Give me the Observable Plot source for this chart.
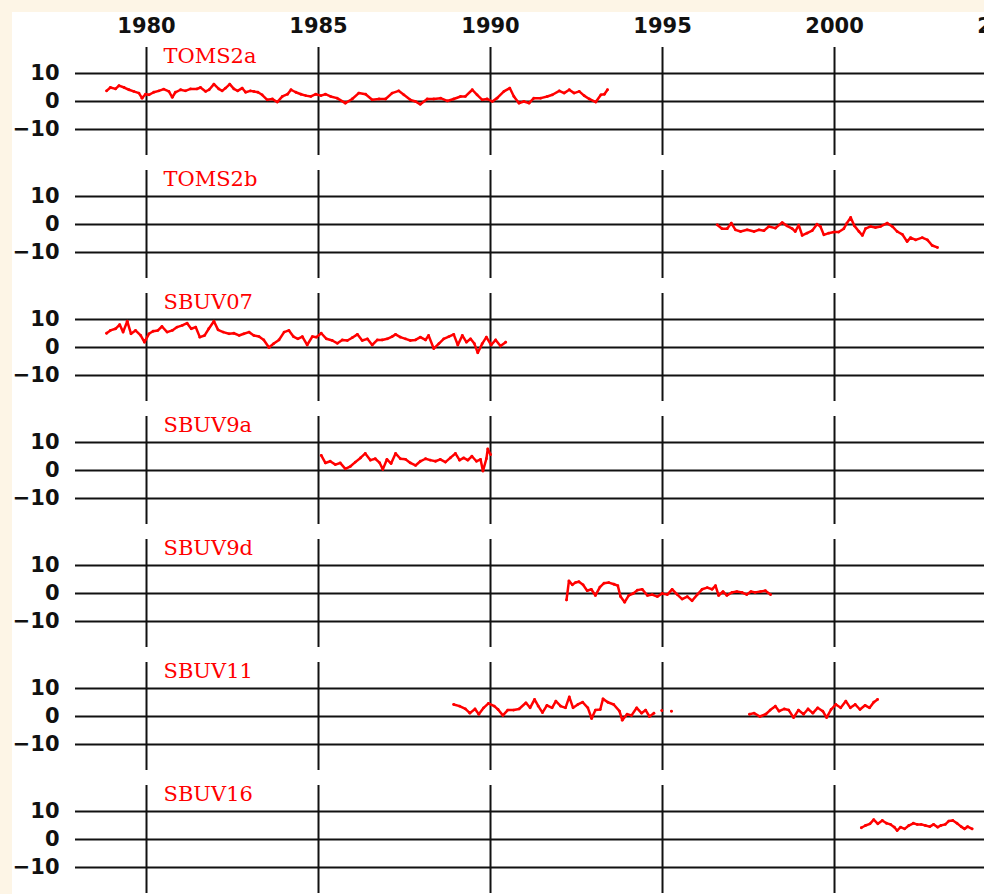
<!DOCTYPE html>
<html>
<head>
<meta charset="utf-8">
<script src="https://cdn.jsdelivr.net/npm/d3@7"></script>
<script src="https://cdn.jsdelivr.net/npm/@observablehq/plot@0.6"></script>
<style>
  html, body { margin: 0; padding: 0; background: #fdf5e6; overflow: hidden; }
  #chart { position: absolute; left: 12px; top: 12px; }
</style>
</head>
<body>
<div id="chart"></div>
<script>
// Instrument records, one panel each (top to bottom)
const panels = ["TOMS2a", "TOMS2b", "SBUV07", "SBUV9a", "SBUV9d", "SBUV11", "SBUV16"];
const yearTicks = [1980, 1985, 1990, 1995, 2000, 2005];
const gridYears = [1980, 1985, 1990, 1995, 2000];
const valueTicks = [-10, 0, 10];

// [decimal year, deviation]; null marks a gap in the record
const toms2a = [[1978.84,3.8],[1978.95,5],[1979.1,4.5],[1979.2,5.7],[1979.35,5],[1979.49,4.2],[1979.63,3.6],[1979.78,3],[1979.87,1.2],[1979.97,2.6],[1980.07,2.4],[1980.21,3.3],[1980.36,3.8],[1980.5,4.4],[1980.65,3.6],[1980.75,1.5],[1980.84,3.3],[1980.99,4.2],[1981.13,3.8],[1981.28,4.5],[1981.47,4.5],[1981.57,5],[1981.72,3.6],[1981.82,4.2],[1981.96,6.2],[1982.1,4.5],[1982.2,3.8],[1982.3,4.8],[1982.42,6.2],[1982.54,4.5],[1982.65,3.8],[1982.78,4.8],[1982.88,3.3],[1983.02,3.8],[1983.12,3.6],[1983.24,3.3],[1983.36,2.4],[1983.51,0.6],[1983.66,0.9],[1983.8,-0.2],[1983.95,1.8],[1984.1,2.6],[1984.2,4.2],[1984.34,3.3],[1984.49,2.6],[1984.63,2.1],[1984.78,1.8],[1984.92,2.6],[1985.07,2.1],[1985.2,2.6],[1985.35,1.8],[1985.54,1.2],[1985.78,-0.6],[1985.98,0.9],[1986.17,3],[1986.37,2.6],[1986.56,0.6],[1986.76,0.9],[1986.95,0.9],[1987.14,3],[1987.33,3.8],[1987.48,2.4],[1987.67,0.6],[1987.82,0],[1987.96,-1],[1988.16,0.9],[1988.35,0.9],[1988.55,1.2],[1988.74,0.2],[1988.93,0.9],[1989.13,1.8],[1989.27,1.8],[1989.47,4.2],[1989.61,2.4],[1989.76,0.6],[1989.9,0.9],[1990.05,0],[1990.19,1.2],[1990.39,3.6],[1990.56,4.8],[1990.68,1.8],[1990.83,-0.6],[1990.97,0],[1991.12,-0.6],[1991.26,1.2],[1991.46,1.2],[1991.65,1.8],[1991.8,2.4],[1992,3.8],[1992.14,3],[1992.29,4.2],[1992.43,3],[1992.58,3.6],[1992.72,2.1],[1992.87,0.9],[1993.06,-0.2],[1993.21,2.4],[1993.31,2.6],[1993.4,4.2]];

const toms2b = [[1996.59,-0.1],[1996.73,-1.5],[1996.88,-1.5],[1997,0.5],[1997.12,-1.9],[1997.27,-2.5],[1997.46,-1.9],[1997.66,-2.5],[1997.8,-1.9],[1997.95,-2.2],[1998.09,-0.7],[1998.28,-1.3],[1998.48,0.7],[1998.62,-0.5],[1998.77,-1.5],[1998.86,-2.5],[1998.96,-0.2],[1999.06,-3.9],[1999.2,-3.1],[1999.35,-2.2],[1999.49,0.1],[1999.59,-0.7],[1999.69,-3.7],[1999.83,-3.1],[1999.98,-2.7],[2000.12,-2.7],[2000.27,-1.5],[2000.36,0.5],[2000.47,2.5],[2000.58,-0.5],[2000.71,-2.5],[2000.81,-3.9],[2000.9,-1.5],[2001.05,-0.7],[2001.19,-1.1],[2001.34,-0.7],[2001.53,0.5],[2001.68,-0.7],[2001.82,-2.5],[2001.97,-3.5],[2002.11,-6.1],[2002.21,-4.7],[2002.36,-5.5],[2002.55,-4.7],[2002.7,-5.5],[2002.84,-7.5],[2002.99,-8.2]];

const sbuv07 = [[1978.84,5.1],[1978.95,6.1],[1979.1,6.7],[1979.22,8.2],[1979.32,5.5],[1979.44,9.4],[1979.55,4.9],[1979.68,6.1],[1979.83,4.3],[1979.94,1.9],[1980.07,4.9],[1980.19,5.8],[1980.33,6.1],[1980.45,7.5],[1980.6,5.5],[1980.75,6.1],[1980.89,7.3],[1981.04,7.9],[1981.18,8.7],[1981.3,6.7],[1981.43,7.3],[1981.55,3.7],[1981.69,4.3],[1981.81,6.7],[1981.96,9.4],[1982.08,6.3],[1982.23,5.5],[1982.4,4.9],[1982.54,5.1],[1982.69,4.3],[1982.83,4.9],[1982.98,5.5],[1983.12,4.3],[1983.27,3.9],[1983.41,2.7],[1983.56,0],[1983.7,1.4],[1983.85,2.7],[1984,5.5],[1984.14,6.1],[1984.27,3.9],[1984.4,3.1],[1984.53,3.9],[1984.67,0.9],[1984.82,3.9],[1984.94,3.7],[1985.08,5.1],[1985.23,3.1],[1985.4,2.5],[1985.55,1.5],[1985.69,2.7],[1985.84,2.5],[1985.98,3.5],[1986.13,4.7],[1986.27,2.5],[1986.42,3.1],[1986.56,0.9],[1986.71,2.7],[1986.85,2.7],[1987,3.1],[1987.14,3.9],[1987.24,4.7],[1987.38,3.7],[1987.53,3.1],[1987.67,2.5],[1987.82,2.7],[1987.96,3.7],[1988.11,2.7],[1988.2,4.3],[1988.35,-0.4],[1988.5,1.4],[1988.64,3.1],[1988.79,3.9],[1988.93,4.7],[1989.05,0.9],[1989.18,4.3],[1989.3,1.9],[1989.42,3.1],[1989.53,1.4],[1989.63,-1.9],[1989.76,1.4],[1989.88,3.7],[1990.02,0.9],[1990.15,2.7],[1990.29,0.5],[1990.44,1.9]];

const sbuv9a = [[1985.08,5.4],[1985.2,2.7],[1985.34,3.3],[1985.49,2.1],[1985.63,2.7],[1985.78,0.6],[1985.93,1.5],[1986.07,3],[1986.22,4.5],[1986.36,6.1],[1986.51,3.7],[1986.65,4.2],[1986.78,2.7],[1986.87,0.4],[1986.99,4],[1987.11,2.5],[1987.24,6.1],[1987.38,4.2],[1987.53,4],[1987.67,2.7],[1987.82,1.8],[1987.96,3.3],[1988.11,4.2],[1988.25,3.7],[1988.4,3.3],[1988.54,4],[1988.69,3],[1988.83,4.5],[1988.98,6.1],[1989.1,3.7],[1989.22,4.5],[1989.34,3.7],[1989.46,5.1],[1989.59,3.3],[1989.71,4],[1989.78,-0.2],[1989.88,4.2],[1989.92,7.7],[1990,5.7]];

const sbuv9d = [[1992.21,-2.3],[1992.28,4.5],[1992.38,3.1],[1992.47,3.9],[1992.57,4.2],[1992.69,3.1],[1992.81,1],[1992.93,1.5],[1993.05,-0.7],[1993.18,2.3],[1993.3,3.7],[1993.44,3.9],[1993.59,3.3],[1993.7,2.8],[1993.78,-1.1],[1993.9,-3.1],[1994.02,-0.7],[1994.15,0],[1994.27,1.2],[1994.41,1.5],[1994.56,-0.7],[1994.7,-0.4],[1994.85,-1.1],[1994.99,0],[1995.14,-0.4],[1995.28,1.5],[1995.43,-0.4],[1995.57,-2],[1995.72,-1.1],[1995.86,-2.6],[1996.01,-0.4],[1996.15,1.5],[1996.3,2.1],[1996.44,1.5],[1996.54,2.8],[1996.63,-0.7],[1996.76,0.7],[1996.87,-0.7],[1997.02,0.4],[1997.16,0.7],[1997.31,0.4],[1997.45,-0.4],[1997.57,0.7],[1997.69,0.4],[1997.85,0.7],[1997.99,1],[1998.14,-0.4]];

const sbuv11 = [[1988.93,4.3],[1989.1,3.7],[1989.27,2.7],[1989.4,1.2],[1989.55,2.7],[1989.66,0.8],[1989.8,3.1],[1989.94,4.7],[1990.11,3.7],[1990.22,2.5],[1990.36,0.4],[1990.5,2.3],[1990.67,2.3],[1990.83,2.7],[1991.03,4.9],[1991.15,3.1],[1991.28,6.1],[1991.39,3.7],[1991.51,1.4],[1991.64,4],[1991.79,3.1],[1991.9,5.5],[1992.04,3.7],[1992.18,3.1],[1992.29,7],[1992.4,3.1],[1992.54,4.3],[1992.68,5.1],[1992.83,3.1],[1992.94,-0.7],[1993.05,2.3],[1993.19,2.5],[1993.27,6.3],[1993.41,5.1],[1993.58,4.3],[1993.75,1.9],[1993.83,-1.3],[1993.97,0.8],[1994.1,0.4],[1994.25,3.1],[1994.39,1.2],[1994.51,2.3],[1994.62,0],[1994.75,1.2],[1994.87,null],[1994.98,2.1],[1995.12,null],[1995.26,1.9],[1995.4,null],[1997.53,0.8],[1997.66,1.2],[1997.83,0],[1998,0.8],[1998.13,2.3],[1998.28,3.7],[1998.39,1.9],[1998.54,2.7],[1998.67,2.3],[1998.81,-0.4],[1998.95,2.3],[1999.1,0.8],[1999.23,2.7],[1999.37,1.2],[1999.51,3.1],[1999.66,1.9],[1999.77,-0.4],[1999.9,2.5],[2000.04,4.3],[2000.18,3.1],[2000.33,5.5],[2000.46,3.1],[2000.6,4.3],[2000.74,2.5],[2000.89,4],[2001.02,3.1],[2001.14,5.1],[2001.25,6.1]];

const sbuv16 = [[2000.78,4.2],[2000.9,5],[2001.03,5.6],[2001.14,7.1],[2001.26,5.6],[2001.39,6.8],[2001.51,5.8],[2001.63,5.4],[2001.74,4.4],[2001.82,3.2],[2001.92,4.4],[2002.04,3.8],[2002.16,5],[2002.29,5.8],[2002.4,5.4],[2002.52,5.4],[2002.64,5],[2002.77,4.6],[2002.88,5.4],[2003,4.4],[2003.09,5],[2003.22,5.4],[2003.32,6.6],[2003.44,6.8],[2003.56,5.8],[2003.68,4.6],[2003.78,3.8],[2003.87,4.6],[2004,3.8]];

const seriesByPanel = {
  TOMS2a: toms2a, TOMS2b: toms2b, SBUV07: sbuv07, SBUV9a: sbuv9a,
  SBUV9d: sbuv9d, SBUV11: sbuv11, SBUV16: sbuv16
};

const rows = panels.flatMap(panel =>
  seriesByPanel[panel].map(([year, value]) => ({panel, year, value}))
);

const minusFormat = d => (d < 0 ? "\u2212" + Math.abs(d) : String(d));

const chart = Plot.plot({
  width: 972,
  height: 882,
  marginTop: 34,
  marginBottom: 1,
  marginLeft: 63,
  marginRight: 0,
  style: {
    background: "#ffffff",
    fontFamily: "'DejaVu Sans', sans-serif",
    fontSize: "21px",
    fontWeight: "bold",
    color: "#111",
    overflow: "visible"
  },
  x: {
    domain: [1977.936, 2004.36],
    axis: "top",
    ticks: yearTicks,
    tickSize: 0,
    tickPadding: 15,
    tickFormat: d => String(d),
    label: null
  },
  y: {
    domain: [-19.3, 19.3],
    ticks: valueTicks,
    tickSize: 0,
    tickPadding: 16,
    tickFormat: minusFormat,
    label: null
  },
  fy: {domain: panels, axis: null, paddingInner: 0.1234, paddingOuter: 0},
  marks: [
    Plot.ruleY(valueTicks, {stroke: "#111", strokeWidth: 2}),
    Plot.ruleX(gridYears, {stroke: "#111", strokeWidth: 2}),
    Plot.line(rows, {x: "year", y: "value", fy: "panel", z: "panel", stroke: "#ff0000", strokeWidth: 2.5, strokeLinejoin: "round"}),
    Plot.dot(rows, {x: "year", y: "value", fy: "panel", r: 1.4, fill: "#ff0000"}),
    Plot.text(panels, {
      fy: d => d,
      x: () => 1980,
      text: d => d,
      frameAnchor: "top",
      lineAnchor: "top",
      textAnchor: "start",
      dx: 17,
      dy: 1,
      fill: "#ff0000",
      fontFamily: "'DejaVu Serif', serif",
      fontWeight: "normal",
      fontSize: 21
    })
  ]
});

document.getElementById("chart").appendChild(chart);
</script>
</body>
</html>
